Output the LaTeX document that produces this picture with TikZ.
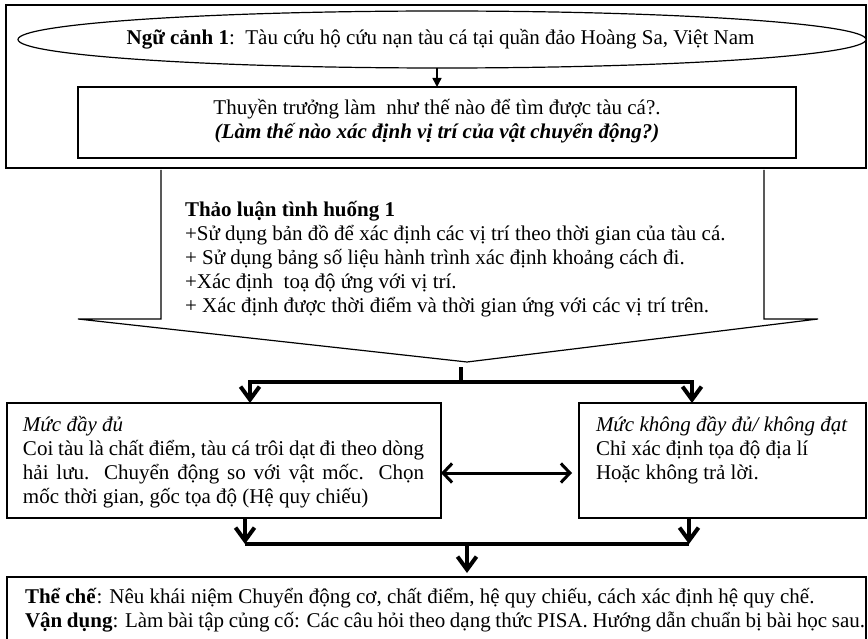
\documentclass[tikz,border=0pt]{standalone}
\usepackage{fontspec}
\setmainfont{Liberation Serif}
\usetikzlibrary{arrows.meta,shapes.geometric,calc}
\newcommand\vnsize{\fontsize{21}{24}\selectfont\lineskiplimit=-100pt\lineskip=0pt}
\tikzset{
  frame/.style={draw=black, line width=1.2pt, inner sep=0pt, outer sep=0pt, fill=white},
  txt/.style={inner sep=0pt, outer sep=0pt, font=\vnsize},
  conn/.style={line width=4pt, black, line join=miter},
  barb/.style={-{Straight Barb[length=13pt,width=19pt,line width=4pt]}},
  dbarb/.style={{Straight Barb[length=13pt,width=19pt,line width=4pt]}-{Straight Barb[length=13pt,width=19pt,line width=4pt]}},
  harr/.style={line width=3pt, {Straight Barb[length=9pt,width=19pt,line width=3pt]}-{Straight Barb[length=9pt,width=19pt,line width=3pt]}},
  thin/.style={line width=1.2pt, black, line join=miter}
}
\begin{document}
\begin{tikzpicture}[x=1pt,y=-1pt]
\useasboundingbox[fill=white] (0,0) rectangle (868,639);
% top frame
\node[frame, anchor=north west, minimum width=860pt, minimum height=163pt] (outer) at (6,5) {};
\node[frame, ellipse, minimum width=848pt, minimum height=57pt] (ctx) at (442,39.5) {};
\node[txt, anchor=base] (ctxtxt) at (440.5,45) {\textbf{Ngữ cảnh 1}:\ \ Tàu cứu hộ cứu nạn tàu cá tại quần đảo Hoàng Sa, Việt Nam};
\node[frame, anchor=north west, minimum width=718pt, minimum height=71pt] (q) at (78,87) {};
\node[txt, anchor=base] (qtxt) at (437,115) {\parbox[t]{700pt}{\vnsize\centering Thuyền trưởng làm\ \ như thế nào để tìm được tàu cá?.\\ \textbf{\textit{(Làm thế nào xác định vị trí của vật chuyển động?)}}}};
\draw[line width=1.5pt, -{Triangle[length=9pt,width=9pt]}] (q.north |- ctx.south) -- (q.north);
% callout arrow
\coordinate (tip) at (467,362);
\draw[thin] (161,170) -- (161,319) -- (78,319) -- (tip) -- (818,319) -- (764,319) -- (764,170);
\node[txt, anchor=base west] (disc) at (185,217) {\parbox[t]{600pt}{\vnsize\textbf{Thảo luận tình huống 1}\\
+Sử dụng bản đồ để xác định các vị trí theo thời gian của tàu cá.\\
+ Sử dụng bảng số liệu hành trình xác định khoảng cách đi.\\
+Xác định\ \ toạ độ ứng với vị trí.\\
+ Xác định được thời điểm và thời gian ứng với các vị trí trên.}};
% result boxes
\node[frame, anchor=north west, minimum width=434pt, minimum height=115pt] (full) at (7,403) {};
\node[txt, anchor=base west] (fulltxt) at (23,431) {\parbox[t]{402pt}{\vnsize\textit{Mức đầy đủ}\\
\makebox[401pt][s]{Coi tàu là chất điểm, tàu cá trôi dạt đi theo dòng}\\
\makebox[401pt][s]{hải lưu. Chuyển động so với vật mốc. Chọn}\\
mốc thời gian, gốc tọa độ (Hệ quy chiếu)}};
\node[frame, anchor=north west, minimum width=287pt, minimum height=115pt] (part) at (579,403) {};
\node[txt, anchor=base west] (parttxt) at (596,431) {\parbox[t]{268pt}{\vnsize\textit{Mức không đầy đủ/ không đạt}\\
Chỉ xác định tọa độ địa lí\\
Hoặc không trả lời.}};
% bottom box
\node[frame, anchor=north west, minimum width=859pt, minimum height=70pt] (sum) at (7,577) {};
\node[txt, anchor=base west] (sumtxt) at (25,603) {\parbox[t]{840pt}{\vnsize\textbf{Thể chế}: Nêu khái niệm Chuyển động cơ, chất điểm, hệ quy chiếu, cách xác định hệ quy chế.\\
\textbf{Vận dụng}: Làm bài tập củng cố: Các câu hỏi theo dạng thức PISA. Hướng dẫn chuẩn bị bài học sau.}};
% connectors
\coordinate (stem) at (461,367);
\coordinate (b1L) at (250,382);
\coordinate (b1R) at (692,382);
\coordinate (b2L) at (245,544);
\coordinate (b2R) at (689,544);
\coordinate (b2M) at (467,544);
\draw[conn] (stem) -- (stem |- b1L);
\draw[conn, dbarb] (full.north -| b1L) -- (b1L) -- (b1R) -- (part.north -| b1R);
\draw[harr, shorten >=7pt] ([yshift=-12.5pt]full.east) -- ([yshift=-12.5pt]part.west);
\draw[conn, barb] (full.south -| b2L) -- (b2L);
\draw[conn, barb] (part.south -| b2R) -- (b2R);
\draw[conn, line cap=square] (b2L) -- (b2R);
\draw[conn, barb, shorten >=4pt] (b2M) -- (b2M |- sum.north);
\end{tikzpicture}
\end{document}
